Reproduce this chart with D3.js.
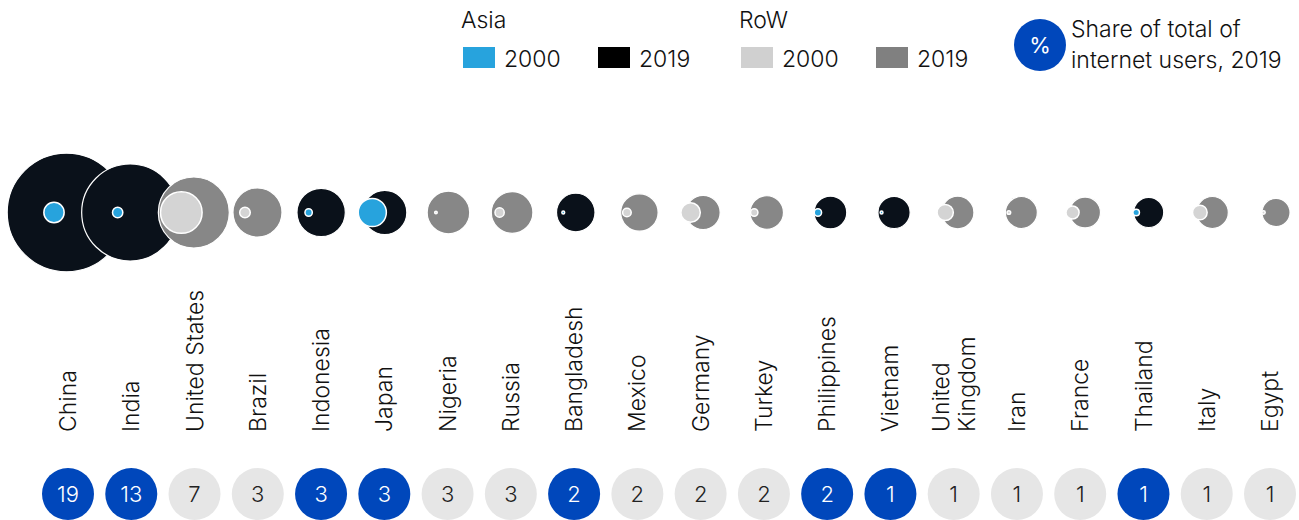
<!DOCTYPE html>
<html>
<head>
<meta charset="utf-8">
<script src="https://cdn.jsdelivr.net/npm/d3@7/dist/d3.min.js"></script>
<style>
  html, body { margin: 0; padding: 0; background: #fff; }
  svg { display: block; font-family: Inter, "Liberation Sans", Arial, sans-serif; font-weight: 300; }
</style>
</head>
<body>
<svg id="chart" width="1299" height="520"></svg>
<script>
const countries = ["China","India","United States","Brazil","Indonesia","Japan","Nigeria","Russia","Bangladesh","Mexico","Germany","Turkey","Philippines","Vietnam","United Kingdom","Iran","France","Thailand","Italy","Egypt"];
const regions = ["Asia","Asia","RoW","RoW","Asia","Asia","RoW","RoW","Asia","RoW","RoW","RoW","Asia","Asia","RoW","RoW","RoW","Asia","RoW","RoW"];
// internet users, millions (estimated from circle areas)
const users2019 = [854, 571, 306, 146, 142, 118, 110, 105, 90, 85, 71, 68, 65, 63, 64, 62, 58, 55, 62, 48];
const users2000 = [25, 6.5, 105, 6.8, 3.3, 48, 0.4, 5.2, 0.5, 4.5, 23, 3.3, 3.3, 0.5, 16, 0.8, 10.5, 2.6, 13, 0.7];
const shares = [19, 13, 7, 3, 3, 3, 3, 3, 2, 2, 2, 2, 2, 1, 1, 1, 1, 1, 1, 1];
const legendGroups = ["Asia", "RoW"];
const legendYears = ["2000", "2019"];

const colors = {
  Asia: { "2000": "#27A3DD", "2019": "#0A111A" },
  RoW:  { "2000": "#D4D4D4", "2019": "#878787" }
};
const legendColors = {
  Asia: { "2000": "#27A3DD", "2019": "#000000" },
  RoW:  { "2000": "#D0D0D0", "2019": "#808080" }
};
const badgeBlue = "#0047BB", badgeGray = "#E6E6E6";

const svg = d3.select("#chart");
const data = countries.map((c, i) => ({ country: c, region: regions[i], v2019: users2019[i], v2000: users2000[i], share: shares[i] }));

const xCircle = d3.scalePoint().domain(countries).range([66.5, 1276]);
const xLabel = d3.scalePoint().domain(countries).range([68, 1270]);
const r = d3.scaleSqrt().domain([0, 854]).range([0, 59.3]);
const cy = 212.5;
const offset2000 = -12.5;
const FS = 23;

// Legend
const legend = svg.append("g");
const groupX = { Asia: 461, RoW: 739 };
const yearDX = { "2000": 0, "2019": 135 };
legendGroups.forEach(g => {
  legend.append("text").attr("x", groupX[g]).attr("y", 28).attr("font-size", FS).attr("fill", "#111").text(g);
  legendYears.forEach(y => {
    const x0 = groupX[g] + 2 + yearDX[y];
    legend.append("rect").attr("x", x0).attr("y", 47).attr("width", 32).attr("height", 21).attr("fill", legendColors[g][y]);
    legend.append("text").attr("x", x0 + 41).attr("y", 67).attr("font-size", FS).attr("fill", "#111").text(y);
  });
});
// Share legend
legend.append("circle").attr("cx", 1040).attr("cy", 45).attr("r", 26).attr("fill", badgeBlue);
legend.append("text").attr("x", 1040).attr("y", 45).attr("dy", "0.35em").attr("text-anchor", "middle")
  .attr("font-size", 22).attr("font-weight", 400).attr("fill", "#fff").text("%");
legend.append("text").attr("x", 1071).attr("y", 37).attr("font-size", FS).attr("fill", "#111").text("Share of total of");
legend.append("text").attr("x", 1071).attr("y", 68).attr("font-size", FS).attr("fill", "#111").text("internet users, 2019");

// Circles
const g = svg.append("g").selectAll("g").data(data).join("g");
g.append("circle")
  .attr("cx", d => xCircle(d.country)).attr("cy", cy)
  .attr("r", d => r(d.v2019))
  .attr("fill", d => colors[d.region]["2019"])
  .attr("stroke", "#fff").attr("stroke-width", 1.2);
g.append("circle")
  .attr("cx", d => xCircle(d.country) + offset2000).attr("cy", cy)
  .attr("r", d => r(d.v2000))
  .attr("fill", d => colors[d.region]["2000"])
  .attr("stroke", "#fff").attr("stroke-width", 1.5);

// Country labels (rotated)
const labels = svg.append("g").selectAll("text").data(data).join("text")
  .attr("transform", d => `translate(${xLabel(d.country)},432) rotate(-90)`)
  .attr("text-anchor", "start")
  .attr("font-size", FS).attr("fill", "#111");
labels.each(function(d) {
  const t = d3.select(this);
  const parts = d.country === "United Kingdom" ? ["United", "Kingdom"] : [d.country];
  const n = parts.length;
  parts.forEach((p, i) => {
    t.append("tspan").attr("x", 0).attr("y", (i - (n - 1) / 2) * 26).attr("dy", "0.35em").text(p);
  });
});

// Share badges
const badges = svg.append("g").selectAll("g").data(data).join("g")
  .attr("transform", d => `translate(${xLabel(d.country)},494)`);
badges.append("circle").attr("r", 26).attr("fill", d => d.region === "Asia" ? badgeBlue : badgeGray);
badges.append("text").attr("text-anchor", "middle").attr("dy", "0.35em")
  .attr("font-size", 22).attr("fill", d => d.region === "Asia" ? "#fff" : "#222").text(d => d.share);
</script>
</body>
</html>
